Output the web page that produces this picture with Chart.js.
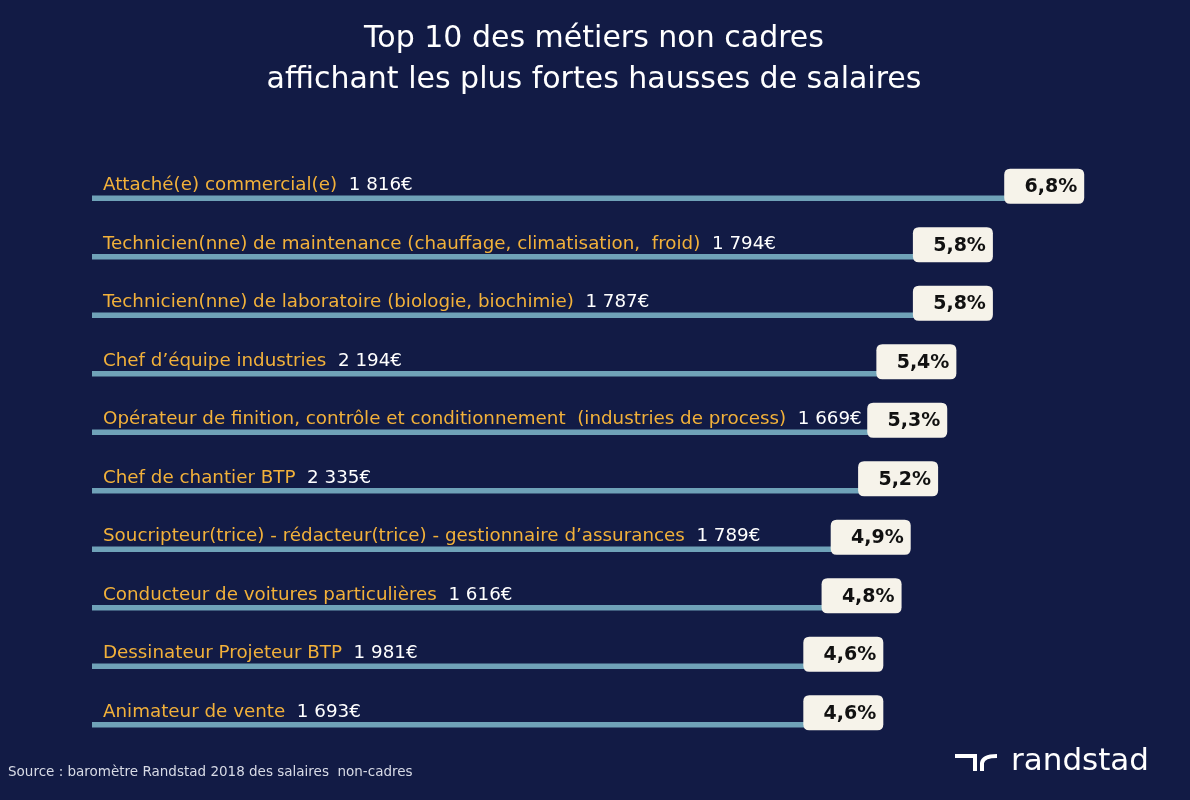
<!DOCTYPE html>
<html>
<head>
<meta charset="utf-8">
<script src="https://cdn.jsdelivr.net/npm/chart.js@4/dist/chart.umd.min.js"></script>
<style>
  html, body { margin: 0; padding: 0; background: #121b45; }
  #wrap { position: relative; width: 1190px; height: 800px; }
</style>
</head>
<body>
<div id="wrap"><canvas id="chart" width="1190" height="800"></canvas></div>
<script>
const titleLines = ['Top 10 des métiers non cadres', 'affichant les plus fortes hausses de salaires'];

const jobs = [
    'Attaché(e) commercial(e)',
    'Technicien(nne) de maintenance (chauffage, climatisation,  froid)',
    'Technicien(nne) de laboratoire (biologie, biochimie)',
    'Chef d’équipe industries',
    'Opérateur de finition, contrôle et conditionnement  (industries de process)',
    'Chef de chantier BTP',
    'Soucripteur(trice) - rédacteur(trice) - gestionnaire d’assurances',
    'Conducteur de voitures particulières',
    'Dessinateur Projeteur BTP',
    'Animateur de vente'
];
const salaries = ['1 816€', '1 794€', '1 787€', '2 194€', '1 669€', '2 335€', '1 789€', '1 616€', '1 981€', '1 693€'];
const hausses = [6.8, 5.8, 5.8, 5.4, 5.3, 5.2, 4.9, 4.8, 4.6, 4.6];
const hausseLabels = ['6,8%', '5,8%', '5,8%', '5,4%', '5,3%', '5,2%', '4,9%', '4,8%', '4,6%', '4,6%'];

const sourceText = 'Source : baromètre Randstad 2018 des salaires  non-cadres';

const FONT = '"DejaVu Sans", sans-serif';

function roundRect(ctx, x, y, w, h, r) {
    ctx.beginPath();
    ctx.moveTo(x + r, y);
    ctx.lineTo(x + w - r, y);
    ctx.quadraticCurveTo(x + w, y, x + w, y + r);
    ctx.lineTo(x + w, y + h - r);
    ctx.quadraticCurveTo(x + w, y + h, x + w - r, y + h);
    ctx.lineTo(x + r, y + h);
    ctx.quadraticCurveTo(x, y + h, x, y + h - r);
    ctx.lineTo(x, y + r);
    ctx.quadraticCurveTo(x, y, x + r, y);
    ctx.closePath();
}

// background + title + labels + value boxes + footer
const decor = {
    id: 'decor',
    beforeDraw(chart) {
        const ctx = chart.ctx;
        ctx.save();
        ctx.fillStyle = '#121b45';
        ctx.fillRect(0, 0, chart.width, chart.height);
        ctx.restore();
    },
    afterDatasetsDraw(chart) {
        const ctx = chart.ctx;
        const bars = chart.getDatasetMeta(0).data;
        ctx.save();

        // title
        ctx.fillStyle = '#ffffff';
        ctx.font = '30px ' + FONT;
        ctx.textAlign = 'center';
        ctx.textBaseline = 'alphabetic';
        ctx.fillText(titleLines[0], 594, 47);
        ctx.fillText(titleLines[1], 594, 88);

        // job names and salaries above each bar
        ctx.textAlign = 'left';
        ctx.font = '18.3px ' + FONT;
        bars.forEach((bar, i) => {
            const x = 103;
            const y = bar.y - 8;
            ctx.fillStyle = '#f2b13a';
            ctx.fillText(jobs[i], x, y);
            const w = ctx.measureText(jobs[i] + '  ').width;
            ctx.fillStyle = '#ffffff';
            ctx.fillText(salaries[i], x + w, y);
        });

        // value boxes
        bars.forEach((bar, i) => {
            const bw = 80, bh = 35;
            const bx = bar.x + 6 - bw;
            const by = bar.y - 12 - bh / 2;
            ctx.fillStyle = '#f6f3ea';
            roundRect(ctx, bx, by, bw, bh, 6);
            ctx.fill();
            ctx.fillStyle = '#111111';
            ctx.font = 'bold 19px ' + FONT;
            ctx.textAlign = 'right';
            ctx.textBaseline = 'middle';
            ctx.fillText(hausseLabels[i], bx + bw - 7, by + bh / 2 + 1);
            ctx.textAlign = 'left';
            ctx.textBaseline = 'alphabetic';
        });

        // source
        ctx.fillStyle = '#d8dbe6';
        ctx.font = '13.5px ' + FONT;
        ctx.fillText(sourceText, 8, 776);

        // randstad logo
        ctx.strokeStyle = '#ffffff';
        ctx.lineWidth = 4;
        ctx.lineCap = 'butt';
        ctx.beginPath();
        ctx.moveTo(955, 756);
        ctx.lineTo(975, 756);
        ctx.lineTo(975, 771);
        ctx.stroke();
        ctx.beginPath();
        ctx.moveTo(982, 771);
        ctx.lineTo(982, 763);
        ctx.quadraticCurveTo(983, 756, 997, 756);
        ctx.stroke();
        ctx.fillStyle = '#ffffff';
        ctx.font = '31px ' + FONT;
        ctx.fillText('randstad', 1011, 770);

        ctx.restore();
    }
};

new Chart(document.getElementById('chart'), {
    type: 'bar',
    data: {
        labels: jobs,
        datasets: [{
            data: hausses,
            base: -4,
            backgroundColor: '#6fa2b8',
            barThickness: 5,
            borderSkipped: false
        }]
    },
    options: {
        indexAxis: 'y',
        responsive: false,
        animation: false,
        layout: { padding: { left: 92, right: 36, top: 169, bottom: 46 } },
        plugins: {
            legend: { display: false },
            tooltip: { enabled: false }
        },
        scales: {
            x: { display: false, min: -4, max: 7.63 },
            y: { display: false }
        }
    },
    plugins: [decor]
});
</script>
</body>
</html>
